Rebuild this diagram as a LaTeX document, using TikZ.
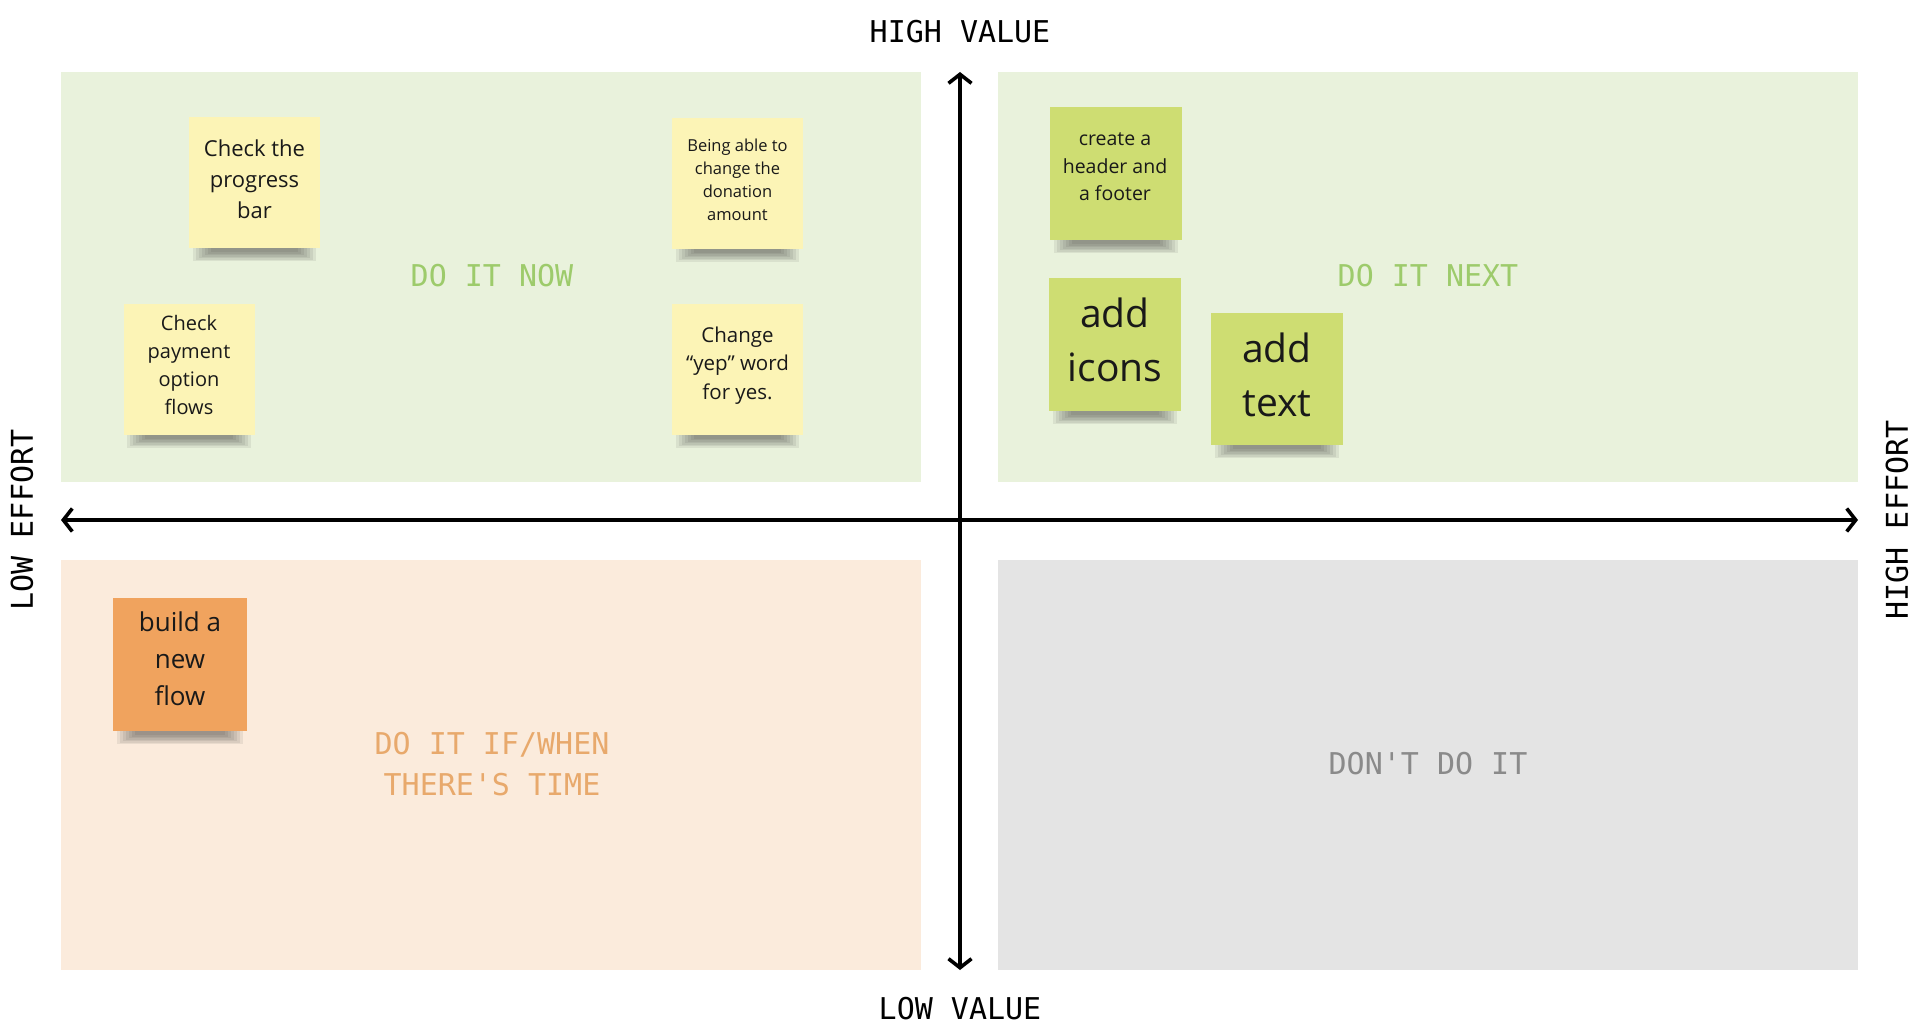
\documentclass[tikz,border=0pt]{standalone}
\usepackage{fontspec}
\setmainfont{Open Sans}
\newfontfamily\monof{DejaVu Sans Mono}
\usetikzlibrary{arrows.meta}
\pgfdeclarelayer{bg}
\pgfdeclarelayer{shad}
\pgfsetlayers{bg,shad,main}
\definecolor{qgreen}{HTML}{E9F2DC}
\definecolor{qpeach}{HTML}{FBEBDC}
\definecolor{qgrey}{HTML}{E4E4E4}
\definecolor{sYellow}{HTML}{FCF4B6}
\definecolor{sGreen}{HTML}{CEDD72}
\definecolor{sOrange}{HTML}{F0A35E}
\definecolor{lGreen}{HTML}{9DCB6B}
\definecolor{lOrange}{HTML}{E8A96C}
\definecolor{lGrey}{HTML}{8A8A8A}
\tikzset{
  sticky/.style={minimum width=131pt,minimum height=131pt,inner sep=0pt},
  stext/.style={inner sep=0pt,align=center,text=black!90},
  shadbar/.style={fill=black!80,opacity=0.085},
  qlabel/.style={font=\monof\fontsize{30}{41}\selectfont,align=center},
  axlabel/.style={font=\monof\fontsize{30}{36}\selectfont,text=black},
  axis/.style={line width=3.6pt,black,{Straight Barb[length=9pt,width=23pt]}-{Straight Barb[length=9pt,width=23pt]}}
}
\newcommand\stickyshadow[1]{%
  \begin{pgfonlayer}{shad}
  \foreach \i in {0,...,6}{%
    \fill[shadbar] ([xshift={4pt+3pt*\i},yshift=4pt]#1.south west) rectangle
      ([xshift={-4pt-3pt*\i},yshift={-13pt+1.5pt*\i}]#1.south east);}
  \end{pgfonlayer}}
\begin{document}
\begin{tikzpicture}[x=1pt,y=-1pt]
\useasboundingbox (0,0) rectangle (1920,1025);
\begin{pgfonlayer}{bg}
\fill[white] (0,0) rectangle (1920,1025);
% quadrants
\fill[qgreen] (61,72) rectangle (921,482);
\fill[qgreen] (998,72) rectangle (1858,482);
\fill[qpeach] (61,560) rectangle (921,970);
\fill[qgrey] (998,560) rectangle (1858,970);
\end{pgfonlayer}
% quadrant labels
\node[qlabel,text=lGreen] (now) at (492,276) {DO IT NOW};
\node[qlabel,text=lGreen] (next) at (1428,276) {DO IT NEXT};
\node[qlabel,text=lOrange] (iftime) at (492,764) {DO IT IF/WHEN\\THERE'S TIME};
\node[qlabel,text=lGrey] (dont) at (1428,764) {DON'T DO IT};
% axes
\coordinate (vtop) at (960,72);
\coordinate (vbot) at (960,970);
\coordinate (hl) at (61,520);
\coordinate (hr) at (1858,520);
\draw[axis] (hl) -- (hr);
\draw[axis] (vbot) -- (vtop);
% axis labels
\node[axlabel] (hv) at (960,32) {HIGH VALUE};
\node[axlabel] (lv) at (960,1009) {LOW VALUE};
\node[axlabel,rotate=90] (le) at (22,520) {LOW EFFORT};
\node[axlabel,rotate=90] (he) at (1897,520) {HIGH EFFORT};
% sticky notes
\node[sticky,fill=sYellow] (prog) at (254.5,182.5) {};
\node[stext,font=\fontsize{22}{31}\selectfont] (progt) at (254.5,179) {Check the\\progress\\bar};
\node[sticky,fill=sYellow] (donat) at (737.5,183) {};
\node[stext,font=\fontsize{16.5}{23}\selectfont] (donatt) at (737.5,179.5) {Being able to\\change the\\donation\\amount};
\node[sticky,fill=sYellow] (pay) at (189,369) {};
\node[stext,font=\fontsize{20}{28}\selectfont] (payt) at (189,365) {Check\\payment\\option\\flows};
\node[sticky,fill=sYellow] (yep) at (737.5,369) {};
\node[stext,font=\fontsize{20.5}{28.5}\selectfont] (yept) at (737.5,365.5) {Change\\“yep” word\\for yes.};
\node[sticky,fill=sGreen,minimum width=132pt,minimum height=133pt] (hdr) at (1116,173.5) {};
\node[stext,font=\fontsize{19.5}{27.5}\selectfont] (hdrt) at (1115,167) {create a\\header and\\a footer};
\node[sticky,fill=sGreen,minimum width=132pt,minimum height=133pt] (icons) at (1115,344.5) {};
\node[stext,font=\fontsize{39}{53.5}\selectfont] (iconst) at (1115,340) {add\\icons};
\node[sticky,fill=sGreen,minimum width=132pt,minimum height=132pt] (txt) at (1277,379) {};
\node[stext,font=\fontsize{39}{54}\selectfont] (txtt) at (1277,375) {add\\text};
\node[sticky,fill=sOrange,minimum width=134pt,minimum height=133pt] (flow) at (180,664.5) {};
\node[stext,font=\fontsize{26}{37}\selectfont] (flowt) at (180,659) {build a\\new\\flow};
% shadows
\stickyshadow{prog}
\stickyshadow{donat}
\stickyshadow{pay}
\stickyshadow{yep}
\stickyshadow{hdr}
\stickyshadow{icons}
\stickyshadow{txt}
\stickyshadow{flow}
\end{tikzpicture}
\end{document}
